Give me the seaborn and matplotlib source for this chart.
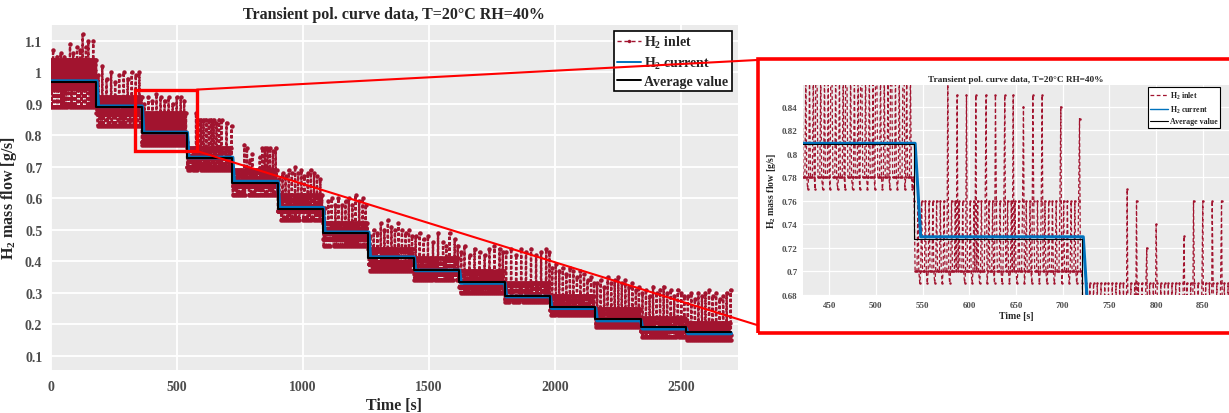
import numpy as np
import pandas as pd
import matplotlib
matplotlib.use("Agg")
import matplotlib.pyplot as plt
import seaborn as sns
from matplotlib.patches import Rectangle, ConnectionPatch

# ---------------- data ----------------
step_edges = [0, 182, 362, 541, 721, 901, 1081, 1261, 1441, 1621, 1801, 1981, 2161, 2341, 2521, 2701]
avg_value = [0.970, 0.890, 0.808, 0.7275, 0.650, 0.567, 0.490, 0.412, 0.373, 0.333, 0.291, 0.256, 0.217, 0.190, 0.175]
current_value = [0.972, 0.892, 0.809, 0.7295, 0.653, 0.570, 0.492, 0.413, 0.371, 0.331, 0.288, 0.251, 0.212, 0.186, 0.171]

# inlet signal: per-step levels of the dense band
inlet_lo = [0.89, 0.83, 0.77, 0.69, 0.61, 0.53, 0.45, 0.37, 0.34, 0.30, 0.27, 0.23, 0.19, 0.16, 0.15]
inlet_base = [0.95, 0.87, 0.78, 0.70, 0.64, 0.56, 0.47, 0.39, 0.36, 0.32, 0.28, 0.245, 0.205, 0.18, 0.165]
inlet_hi = [1.04, 0.92, 0.87, 0.76, 0.69, 0.61, 0.52, 0.44, 0.41, 0.37, 0.33, 0.29, 0.25, 0.22, 0.205]
# order in which the band levels (0=lo, 1=base, 2=hi) recur, one sample per second
band_cycle = [1, 2, 1, 0, 1, 2, 1, 1]

# inlet spikes (time [s], peak [g/s])
spike_t = [10, 25, 40, 55, 77, 90, 105, 118, 127, 140, 150, 169,
           190, 205, 222, 240, 256, 272, 290, 306, 322, 338, 352,
           372, 388, 404, 420, 436, 452, 468, 484, 500, 516, 530,
           577, 587, 597, 607, 618, 628, 638, 647, 658, 668, 678, 698, 718,
           769, 779, 790, 800, 830, 840, 850, 860, 870, 882, 893,
           907, 920, 932, 945, 957, 970, 982, 995, 1007, 1020, 1032, 1045, 1057, 1070,
           1088, 1102, 1115, 1130, 1142, 1156, 1170, 1183, 1197, 1210, 1224, 1238, 1250,
           1268, 1282, 1296, 1310, 1324, 1338, 1352, 1366, 1380, 1394, 1408, 1422, 1434,
           1448, 1464, 1480, 1497, 1517, 1537, 1557, 1570, 1583, 1603, 1615,
           1629, 1642, 1662, 1682, 1702, 1722, 1741, 1761, 1781, 1794,
           1807, 1827, 1847, 1867, 1886, 1906, 1926, 1946, 1966, 1979,
           1990, 2004, 2018, 2032, 2046, 2060, 2074, 2088, 2102, 2116, 2130, 2144, 2156,
           2168, 2182, 2196, 2210, 2224, 2238, 2252, 2266, 2280, 2294, 2308, 2322, 2334,
           2348, 2362, 2376, 2390, 2404, 2418, 2432, 2446, 2460, 2474, 2488, 2502, 2514,
           2528, 2542, 2556, 2570, 2584, 2598, 2612, 2626, 2640, 2654, 2668, 2682, 2698]
spike_v = [1.07, 1.05, 1.06, 1.05, 1.09, 1.06, 1.08, 1.07, 1.12, 1.08, 1.10, 1.10,
           0.99, 1.02, 0.98, 1.00, 0.97, 0.99, 1.00, 0.98, 1.00, 0.99, 1.00,
           0.90, 0.92, 0.91, 0.93, 0.92, 0.91, 0.92, 0.90, 0.92, 0.92, 0.91,
           0.87, 0.85, 0.85, 0.85, 0.85, 0.85, 0.85, 0.85, 0.84, 0.85, 0.85, 0.84, 0.83,
           0.77, 0.76, 0.72, 0.74, 0.73, 0.76, 0.76, 0.76, 0.76, 0.75, 0.76,
           0.66, 0.68, 0.67, 0.69, 0.68, 0.70, 0.68, 0.69, 0.67, 0.68, 0.69, 0.68, 0.67, 0.66,
           0.57, 0.59, 0.60, 0.58, 0.60, 0.58, 0.59, 0.60, 0.58, 0.61, 0.59, 0.60, 0.58,
           0.48, 0.50, 0.49, 0.52, 0.50, 0.53, 0.51, 0.50, 0.52, 0.50, 0.49, 0.50, 0.48,
           0.48, 0.49, 0.47, 0.48, 0.46, 0.49, 0.46, 0.45, 0.49, 0.47, 0.45,
           0.43, 0.45, 0.42, 0.44, 0.43, 0.42, 0.44, 0.45, 0.44, 0.43,
           0.43, 0.44, 0.42, 0.44, 0.43, 0.44, 0.42, 0.43, 0.44, 0.43,
           0.38, 0.39, 0.37, 0.38, 0.36, 0.38, 0.37, 0.35, 0.37, 0.36, 0.34, 0.35, 0.33,
           0.33, 0.34, 0.32, 0.35, 0.33, 0.34, 0.35, 0.33, 0.34, 0.32, 0.33, 0.31, 0.32,
           0.30, 0.31, 0.29, 0.32, 0.30, 0.31, 0.32, 0.30, 0.31, 0.29, 0.31, 0.30, 0.29,
           0.29, 0.30, 0.28, 0.30, 0.29, 0.30, 0.31, 0.29, 0.30, 0.28, 0.29, 0.30, 0.31]

x_ticks_main = [0, 500, 1000, 1500, 2000, 2500]
y_ticks_main = [0.1, 0.2, 0.3, 0.4, 0.5, 0.6, 0.7, 0.8, 0.9, 1.0, 1.1]
x_ticks_inset = [450, 500, 550, 600, 650, 700, 750, 800, 850]
y_ticks_inset = [0.68, 0.70, 0.72, 0.74, 0.76, 0.78, 0.80, 0.82, 0.84]

title = "Transient pol. curve data, T=20°C RH=40%"
lab_inlet = r"$\mathbf{H_2}$ inlet"
lab_current = r"$\mathbf{H_2}$ current"
lab_avg = "Average value"

# zoom window drawn on the main chart (t0, t1, v0, v1)
zoom_box = (334, 580, 0.750, 0.945)

# ---------------- build series ----------------
n_steps = len(avg_value)
t_in = np.arange(step_edges[0], step_edges[-1])
k_in = np.clip(np.searchsorted(step_edges, t_in, side="right") - 1, 0, n_steps - 1)
levels = np.array([inlet_lo, inlet_base, inlet_hi])
cyc = np.array(band_cycle)[t_in % len(band_cycle)]
inlet = levels[cyc, k_in]
inlet[np.searchsorted(t_in, spike_t)] = spike_v
df_inlet = pd.DataFrame({"t": t_in, "v": inlet})

cur_t, cur_v = [], []
for k in range(n_steps):
    s, e = step_edges[k], step_edges[k + 1]
    cur_t += [s + (7 if k > 0 else 0), e + (1 if k < n_steps - 1 else -1)]
    cur_v += [current_value[k], current_value[k]]
df_cur = pd.DataFrame({"t": cur_t, "v": cur_v})

df_avg = pd.DataFrame({"t": step_edges, "v": avg_value + [avg_value[-1]]})

# ---------------- style ----------------
sns.set_theme(style="darkgrid")
plt.rcParams.update({
    "font.family": ["Liberation Serif", "DejaVu Serif"],
    "font.weight": "bold",
    "axes.labelweight": "bold",
    "axes.titleweight": "bold",
    "mathtext.fontset": "custom",
    "mathtext.rm": "Liberation Serif:bold",
    "mathtext.bf": "Liberation Serif:bold",
    "mathtext.it": "Liberation Serif:bold:italic",
    "axes.facecolor": "#EBEBEB",
    "grid.color": "white",
})

RED = "#A2142F"
BLUE = "#0072BD"
TICK_GRAY = "#4D4D4D"
W, H = 1229, 414

fig = plt.figure(figsize=(W / 100, H / 100), dpi=100)
fig.patch.set_facecolor("white")


def fmt(v):
    return f"{round(v, 4):g}"


# ---------------- main axes ----------------
ax = fig.add_axes([50.6 / W, 1 - 371 / H, (738 - 50.6) / W, (371 - 26) / H])
sns.lineplot(data=df_inlet, x="t", y="v", ax=ax, color=RED, lw=1.7,
             linestyle=(0, (1.4, 0.9)), marker="o", markersize=3.2, markeredgewidth=0,
             estimator=None, errorbar=None, label=lab_inlet, zorder=2)
sns.lineplot(data=df_cur, x="t", y="v", ax=ax, color=BLUE, lw=2.6,
             estimator=None, errorbar=None, sort=False, label=lab_current, zorder=3)
sns.lineplot(data=df_avg, x="t", y="v", ax=ax, color="black", lw=1.5,
             drawstyle="steps-post", estimator=None, errorbar=None, sort=False,
             label=lab_avg, zorder=4)

ax.set_xlim(0, 2727)
ax.set_ylim(0.055, 1.15)
ax.set_xticks(x_ticks_main)
ax.set_xticklabels([fmt(v) for v in x_ticks_main])
ax.set_yticks(y_ticks_main)
ax.set_yticklabels([fmt(v) for v in y_ticks_main])
ax.tick_params(axis="both", length=0, labelsize=10, labelcolor=TICK_GRAY)
ax.tick_params(axis="x", pad=7)
ax.tick_params(axis="y", pad=6)
for lab in ax.get_xticklabels() + ax.get_yticklabels():
    lab.set_fontweight("bold")
ax.grid(True, color="white", lw=1.3)
for sp in ax.spines.values():
    sp.set_visible(False)
ax.set_xlabel("Time [s]", fontsize=11.5, fontweight="bold", labelpad=3)
ax.set_ylabel(r"$\mathbf{H_2}$ mass flow [g/s]", fontsize=11.5, fontweight="bold", labelpad=4)
ax.set_title(title, fontsize=11.5, fontweight="bold", pad=5)

h, l = ax.get_legend_handles_labels()
leg = ax.legend(h, l, loc="upper right", bbox_to_anchor=(0.991, 0.983), borderaxespad=0,
                frameon=True, fancybox=False, edgecolor="black", framealpha=1,
                facecolor="white", prop={"size": 10, "weight": "bold"},
                handlelength=1.75, handletextpad=0.2, labelspacing=0.3, borderpad=0.25)
leg.get_frame().set_linewidth(1.2)
leg.set_zorder(6)
lh = leg.legend_handles
lh[0].set_linewidth(1.0)
lh[0].set_linestyle((0, (3, 2)))
lh[0].set_markersize(2.5)
lh[1].set_linewidth(1.4)
lh[2].set_linewidth(1.4)

t0, t1, v0, v1 = zoom_box
ax.add_patch(Rectangle((t0, v0), t1 - t0, v1 - v0, fill=False, ec="red", lw=2.4, zorder=7))

# ---------------- inset axes ----------------
axi = fig.add_axes([803 / W, 1 - 296 / H, (W - 803) / W, (296 - 86) / H])
sns.lineplot(data=df_inlet, x="t", y="v", ax=axi, color=RED, lw=0.9,
             linestyle=(0, (3, 2)), marker="o", markersize=1.8, markeredgewidth=0,
             estimator=None, errorbar=None, label=lab_inlet, zorder=2)
sns.lineplot(data=df_cur, x="t", y="v", ax=axi, color=BLUE, lw=2.2,
             estimator=None, errorbar=None, sort=False, label=lab_current, zorder=3)
sns.lineplot(data=df_avg, x="t", y="v", ax=axi, color="black", lw=0.8,
             drawstyle="steps-post", estimator=None, errorbar=None, sort=False,
             label=lab_avg, zorder=4)
axi.set_xlim(422, 878)
axi.set_ylim(0.68, 0.8586)
axi.set_xticks(x_ticks_inset)
axi.set_xticklabels([fmt(v) for v in x_ticks_inset])
axi.set_yticks(y_ticks_inset)
axi.set_yticklabels([fmt(v) for v in y_ticks_inset])
axi.tick_params(axis="both", length=0, labelsize=6.5, labelcolor=TICK_GRAY, pad=4)
for lab in axi.get_xticklabels() + axi.get_yticklabels():
    lab.set_fontweight("bold")
axi.grid(True, color="white", lw=0.9)
for sp in axi.spines.values():
    sp.set_visible(False)
axi.set_xlabel("Time [s]", fontsize=7, fontweight="bold", labelpad=2)
axi.set_ylabel(r"$\mathbf{H_2}$ mass flow [g/s]", fontsize=7, fontweight="bold", labelpad=3)
axi.set_title(title, fontsize=6.7, fontweight="bold", pad=3)
hi_, li_ = axi.get_legend_handles_labels()
legi = axi.legend(hi_, li_, loc="upper right", bbox_to_anchor=(0.979, 0.99), borderaxespad=0,
                  frameon=True, fancybox=False, edgecolor="black", framealpha=1,
                  facecolor="white", prop={"size": 5.7, "weight": "bold"},
                  handlelength=2.3, handletextpad=0.2, labelspacing=0.35, borderpad=0.3)
legi.get_frame().set_linewidth(0.8)
lhi = legi.legend_handles
lhi[0].set_marker("")
lhi[1].set_linewidth(1.0)

# ---------------- zoom frame and connectors ----------------
fig.add_artist(Rectangle((757.5 / W, 1 - 334 / H), (1300 - 757.5) / W, (334 - 60) / H,
                         transform=fig.transFigure, fill=False, ec="red", lw=2.6, zorder=10))
for (ty, fy) in [(v1, 61), (v0, 326)]:
    cp = ConnectionPatch(xyA=(t1, ty), coordsA=ax.transData,
                         xyB=(757 / W, 1 - fy / H), coordsB=fig.transFigure,
                         color="red", lw=1.5, zorder=10)
    fig.add_artist(cp)

fig.savefig("out.png", dpi=100)
